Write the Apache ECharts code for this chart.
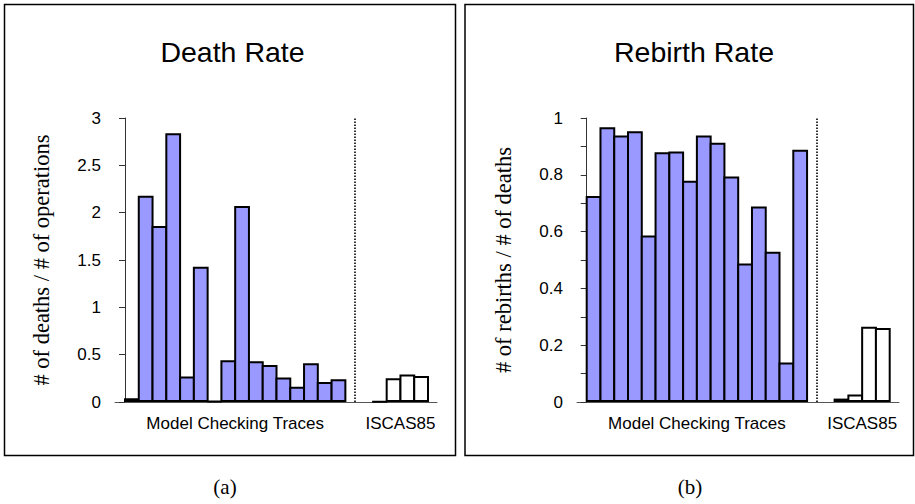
<!DOCTYPE html>
<html>
<head>
<meta charset="utf-8">
<script src="https://cdn.jsdelivr.net/npm/echarts@6/dist/echarts.min.js"></script>
<style>
  html, body { margin: 0; padding: 0; background: #fff; }
  #chart { width: 915px; height: 504px; }
</style>
</head>
<body>
<div id="chart"></div>
<script>
// Death rate per trace (# of deaths / # of operations)
const deathModelChecking = [0.04, 2.18, 1.86, 2.84, 0.27, 1.43, 0.01, 0.44, 2.07, 0.43, 0.39, 0.26, 0.16, 0.41, 0.21, 0.24];
const deathIscas = [0.005, 0.25, 0.29, 0.275];

// Rebirth rate per trace (# of rebirths / # of deaths)
const rebirthModelChecking = [0.725, 0.967, 0.938, 0.953, 0.586, 0.879, 0.882, 0.779, 0.938, 0.913, 0.794, 0.488, 0.688, 0.529, 0.139, 0.888];
const rebirthIscas = [0.012, 0.026, 0.265, 0.261];

const groupNames = ['Model Checking Traces', 'ISCAS85'];
const spacerSlots = 2;               // empty slots between the two benchmark groups
const panelTitles = ['Death Rate', 'Rebirth Rate'];
const yAxisNames = ['# of deaths / # of operations', '# of rebirths / # of deaths'];
const captions = ['(a)', '(b)'];
const deathTicks = { min: 0, max: 3, interval: 0.5 };
const rebirthTicks = { min: 0, max: 1, interval: 0.2 };

const SANS = '"Liberation Sans", Arial, Helvetica, sans-serif';
const SERIF = '"Liberation Serif", "Times New Roman", serif';

const panels = [
  { title: panelTitles[0], yName: yAxisNames[0], caption: captions[0], mc: deathModelChecking, is: deathIscas, ticks: deathTicks, minor: false,
    axisLeft: 115, barLeft: 125, frameX: 4.5, titleX: 232.5, captionX: 225 },
  { title: panelTitles[1], yName: yAxisNames[1], caption: captions[1], mc: rebirthModelChecking, is: rebirthIscas, ticks: rebirthTicks, minor: true,
    axisLeft: 577, barLeft: 586.7, frameX: 465, titleX: 694, captionX: 690 }
];

const PLOT_TOP = 118, PLOT_H = 284, AXIS_W = 322, BAR_W = 303;
const BORDER = 2;

const grid = [], xAxis = [], yAxis = [], series = [], title = [], graphic = [];

panels.forEach((p, k) => {
  const nMc = p.mc.length, nIs = p.is.length;
  const nSlots = nMc + spacerSlots + nIs;
  const cats = [];
  for (let i = 0; i < nMc; i++) cats.push('MC' + (i + 1));
  for (let i = 0; i < spacerSlots; i++) cats.push('gap' + (i + 1));
  for (let i = 0; i < nIs; i++) cats.push('IS' + (i + 1));
  const blueData = p.mc.concat(new Array(spacerSlots + nIs).fill(null));
  const whiteData = new Array(nMc + spacerSlots).fill(null).concat(p.is);
  const groupCenters = [nMc / 2, nMc + spacerSlots + nIs / 2];
  const slotPx = BAR_W / nSlots;
  const sepAt = nMc + spacerSlots / 2 - 0.3;

  const gAxes = grid.length;
  grid.push({ left: p.axisLeft, top: PLOT_TOP, width: AXIS_W, height: PLOT_H, containLabel: false });
  grid.push({ left: p.barLeft, top: PLOT_TOP, width: BAR_W, height: PLOT_H, containLabel: false });

  const xFrame = xAxis.length;
  // axis line spanning the full plot, in slot units
  xAxis.push({
    type: 'value', gridIndex: gAxes, position: 'bottom',
    min: (p.axisLeft - p.barLeft) / slotPx, max: (p.axisLeft + AXIS_W - p.barLeft) / slotPx,
    axisLine: { show: true, lineStyle: { color: '#555', width: 1 } },
    axisTick: { show: false }, axisLabel: { show: false }, splitLine: { show: false }
  });
  const xBars = xAxis.length;
  xAxis.push({
    type: 'category', gridIndex: gAxes + 1, data: cats, position: 'bottom', show: false
  });
  // group names centred under each group of bars
  xAxis.push({
    type: 'value', gridIndex: gAxes + 1, position: 'bottom', min: 0, max: nSlots, interval: 1,
    axisLine: { show: false }, axisTick: { show: false }, splitLine: { show: false },
    axisLabel: {
      show: true, margin: 13, fontFamily: SANS, fontSize: 17, color: '#000',
      showMinLabel: true, showMaxLabel: true,
      formatter: v => { const i = groupCenters.indexOf(v); return i >= 0 ? groupNames[i] : ''; }
    }
  });

  const yFrame = yAxis.length;
  yAxis.push({
    type: 'value', gridIndex: gAxes, min: p.ticks.min, max: p.ticks.max, interval: p.ticks.interval,
    axisLine: { show: true, lineStyle: { color: '#333', width: 1 } },
    axisTick: { show: true, inside: false, length: 6, lineStyle: { color: '#333' } },
    minorTick: { show: p.minor, splitNumber: 2, length: 6, lineStyle: { color: '#333' } },
    splitLine: { show: false }, minorSplitLine: { show: false },
    axisLabel: { margin: 14, fontFamily: SANS, fontSize: 17, color: '#000' },
    name: p.yName, nameLocation: 'middle', nameGap: 62, nameRotate: 90,
    nameTextStyle: { fontFamily: SERIF, fontSize: 22.5, color: '#000' }
  });
  const yBars = yAxis.length;
  yAxis.push({ type: 'value', gridIndex: gAxes + 1, min: p.ticks.min, max: p.ticks.max, show: false, splitLine: { show: false } });

  // bars are widened by the border so neighbours share a single outline
  const barBase = {
    type: 'bar', xAxisIndex: xBars, yAxisIndex: yBars,
    barWidth: slotPx + BORDER, barGap: '-100%',
    animation: false, silent: true
  };
  series.push(Object.assign({}, barBase, {
    name: groupNames[0], data: blueData,
    itemStyle: { color: '#9999ff', borderColor: '#000', borderWidth: BORDER }
  }));
  series.push(Object.assign({}, barBase, {
    name: groupNames[1], data: whiteData,
    itemStyle: { color: '#ffffff', borderColor: '#000', borderWidth: BORDER }
  }));
  // dotted separator between the two groups
  series.push({
    type: 'line', xAxisIndex: xFrame, yAxisIndex: yFrame, data: [], animation: false, silent: true,
    markLine: {
      silent: true, symbol: ['none', 'none'], animation: false,
      label: { show: false },
      lineStyle: { type: [1.5, 1.5], color: '#000', width: 1.6, opacity: 1 },
      data: [{ xAxis: sepAt }]
    }
  });

  title.push({
    text: p.title, left: p.titleX, top: 37, textAlign: 'center', padding: 0,
    textStyle: { fontFamily: SANS, fontSize: 28.5, fontWeight: 'normal', color: '#000' }
  });

  graphic.push({
    type: 'rect', silent: true, z: -1,
    shape: { x: p.frameX, y: 4.5, width: k === 0 ? 451 : 448.5, height: 451 },
    style: { fill: 'none', stroke: '#000', lineWidth: 1.5 }
  });
  graphic.push({
    type: 'text', silent: true, x: p.captionX, y: 487,
    style: { text: p.caption, align: 'center', verticalAlign: 'middle', font: '21px ' + SERIF, fill: '#000' }
  });
});

const chart = echarts.init(document.getElementById('chart'), null, { renderer: 'svg' });
chart.setOption({
  backgroundColor: '#fff',
  animation: false,
  title, grid, xAxis, yAxis, series, graphic
});
</script>
</body>
</html>
